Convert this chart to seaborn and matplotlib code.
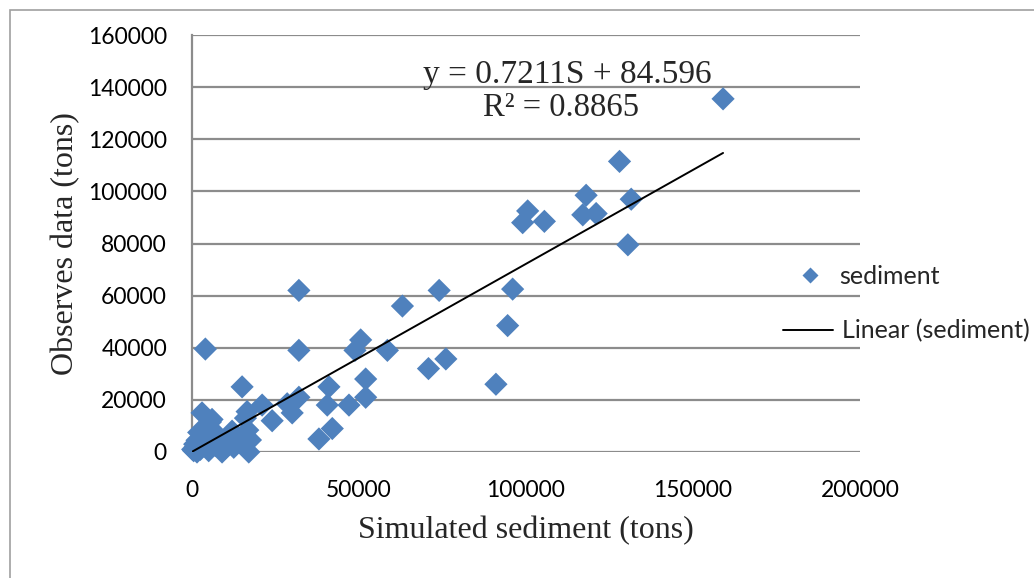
import numpy as np
import pandas as pd
import matplotlib
matplotlib.use("Agg")
import matplotlib.pyplot as plt
import seaborn as sns
from matplotlib.lines import Line2D
from matplotlib.patches import Rectangle

# ---- data ----
simulated = [500, 1000, 1500, 2000, 2500, 800, 3000, 3500, 4000, 4500, 5000,
             5500, 6000, 6500, 7000, 8000, 9000, 10000, 11000, 12500, 13500,
             15000, 15500, 16000, 16500, 16700, 17000, 17500, 1500, 200, 3000,
             5000, 12000,
             21000, 24000, 28500, 30000, 32000, 32000, 32000, 38000, 40500,
             41000, 42000, 47000, 48800, 50500, 52000, 52000, 58500, 63000,
             70800, 74000, 76000, 91000, 94500, 96000, 99000, 100500, 105500,
             117000, 118000, 121000, 128000, 130500, 131500, 159000]
observed = [500, 2000, 4500, 7500, 1000, 3000, 15000, 6000, 39500, 3000, 500,
            11500, 12500, 8000, 2500, 5000, 0, 1500, 3500, 1800, 6000,
            25000, 5800, 13000, 15500, 8400, 0, 4600, 0, 1000, 2500,
            9000, 8000,
            18000, 12000, 18500, 15000, 21000, 39000, 62000, 5000, 18000,
            25000, 9000, 18000, 39000, 43000, 28000, 21000, 39000, 56000,
            32000, 62000, 35700, 26000, 48500, 62500, 88000, 92500, 88500,
            91000, 98500, 91500, 111500, 79500, 97000, 135500]
trend_slope = 0.7211
trend_intercept = 84.596
r_squared = 0.8865
x_ticks = [0, 50000, 100000, 150000, 200000]
y_ticks = [0, 20000, 40000, 60000, 80000, 100000, 120000, 140000, 160000]

df = pd.DataFrame({"sim": simulated, "obs": observed})
xs = np.array([min(simulated), max(simulated)], dtype=float)
trend = pd.DataFrame({"sim": xs, "obs": trend_slope * xs + trend_intercept})

sns.set_style("white")
plt.rcParams["font.family"] = ["Lato", "DejaVu Sans"]

W, H = 1034, 578
fig = plt.figure(figsize=(W / 100, H / 100), dpi=100)
ax = fig.add_axes([192 / W, 1 - 452 / H, (860 - 192) / W, (452 - 35) / H])

grid_c = "#8c8c8c"
blue = "#4F81BD"

sns.scatterplot(data=df, x="sim", y="obs", marker="D", s=140, color=blue,
                edgecolor="none", ax=ax, zorder=3, legend=False, clip_on=False)
sns.lineplot(data=trend, x="sim", y="obs", color="black", linewidth=1.4,
             ax=ax, zorder=4, legend=False)

ax.set_xlim(0, 200000)
ax.set_ylim(0, 160000)
ax.set_xticks(x_ticks)
ax.set_yticks(y_ticks)
ax.set_xticklabels([str(v) for v in x_ticks])
ax.set_yticklabels([str(v) for v in y_ticks])
ax.tick_params(axis="both", labelsize=16.5, length=0, colors="black")
ax.tick_params(axis="x", pad=20)
ax.tick_params(axis="y", pad=18)
ax.yaxis.grid(True, color=grid_c, linewidth=1.6)
ax.xaxis.grid(False)
for side in ["top", "right", "bottom"]:
    ax.spines[side].set_visible(False)
ax.spines["left"].set_color(grid_c)
ax.spines["left"].set_linewidth(1.6)
ax.set_axisbelow(True)

serif = ["Liberation Serif", "DejaVu Serif"]
ax.set_xlabel("Simulated sediment (tons)", fontsize=23, family=serif)
ax.set_ylabel("Observes data (tons)", fontsize=23, family=serif)
ax.xaxis.set_label_coords(0.5, (452 - 516) / 417)
ax.yaxis.set_label_coords((80 - 192) / 668, 0.5)

ax.text(0.562, 0.905, f"y = {trend_slope}S + {trend_intercept}",
        transform=ax.transAxes, ha="center", va="center", fontsize=24, family=serif)
ax.text(0.553, 0.825, f"R² = {r_squared}",
        transform=ax.transAxes, ha="center", va="center", fontsize=23.5, family=serif)

leg1 = fig.legend([Line2D([], [], marker="D", color=blue, linestyle="none",
                          markersize=8.5, markeredgecolor="none")],
                  ["sediment"], loc="center left",
                  bbox_to_anchor=(797 / W, 1 - 276 / H), frameon=False,
                  fontsize=18, handlelength=1.0, handletextpad=0.7,
                  borderaxespad=0, borderpad=0)
leg2 = fig.legend([Line2D([], [], color="black", linewidth=1.4)],
                  ["Linear (sediment)"], loc="center left",
                  bbox_to_anchor=(783 / W, 1 - 331 / H), frameon=False,
                  fontsize=18, handlelength=2.0, handletextpad=0.36,
                  borderaxespad=0, borderpad=0)

fig.patches.append(Rectangle((10 / W, -0.1), 1.2, (1 - 10 / H) + 0.1,
                             transform=fig.transFigure, fill=False,
                             edgecolor="#a0a0a0", linewidth=1.2))

fig.savefig("out.png", dpi=100, facecolor="white")
